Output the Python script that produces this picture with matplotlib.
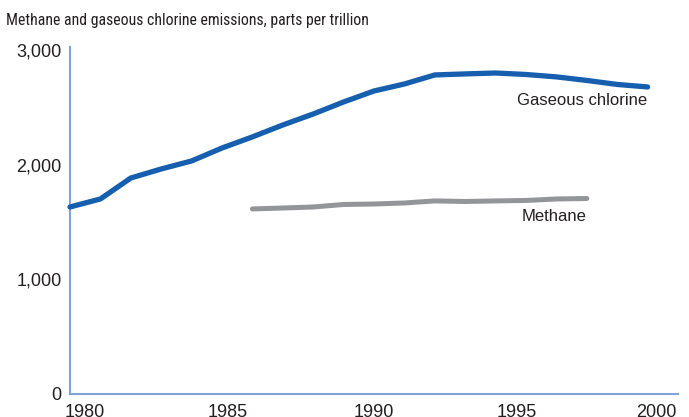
import matplotlib
matplotlib.use("Agg")
import matplotlib.pyplot as plt

# Annual concentrations, parts per trillion
years_chlorine = list(range(1980, 2000))
chlorine = [1633, 1703, 1886, 1965, 2035, 2148, 2245, 2349, 2445, 2550,
            2646, 2707, 2786, 2795, 2803, 2790, 2769, 2738, 2703, 2681]

years_methane = list(range(1986, 1998))
methane = [1616, 1624, 1633, 1655, 1659, 1668, 1686, 1681, 1686, 1690, 1703, 1707]

x_tick_pos = [1980.5, 1985.2, 1990.0, 1994.7, 1999.3]
x_tick_labels = ["1980", "1985", "1990", "1995", "2000"]
y_ticks = [0, 1000, 2000, 3000]
y_tick_labels = ["0", "1,000", "2,000", "3,000"]

W, H = 689, 417
fig = plt.figure(figsize=(W / 100, H / 100), dpi=100)
ax = fig.add_axes([70 / W, 1 - 394 / H, (678 - 70) / W, (394 - 47) / H])

blue = "#165EAE"
grey = "#939598"
axis_col = "#7FA5D6"
text_col = "#231F20"

ax.plot(years_chlorine, chlorine, color=blue, lw=3.8, solid_capstyle="round",
        solid_joinstyle="round", clip_on=False, zorder=3)
ax.plot(years_methane, methane, color=grey, lw=3.6, solid_capstyle="round",
        solid_joinstyle="round", clip_on=False, zorder=3)

ax.set_xlim(1980, 2000)
ax.set_ylim(0, 3030)

for s in ["top", "right"]:
    ax.spines[s].set_visible(False)
for s in ["left", "bottom"]:
    ax.spines[s].set_color(axis_col)
    ax.spines[s].set_linewidth(1.5)

tick_font = dict(family="Liberation Sans", size=13, color=text_col)
ax.set_xticks(x_tick_pos)
ax.set_xticklabels(x_tick_labels, **tick_font)
ax.set_yticks(y_ticks)
ax.set_yticklabels(y_tick_labels, **tick_font)
ax.tick_params(axis="both", length=0)
ax.tick_params(axis="x", pad=7.5)
ax.tick_params(axis="y", pad=6)

fig.text(6 / W, 1 - 20 / H, "Methane and gaseous chlorine emissions, parts per trillion",
         family="Roboto Condensed", size=11.3, color=text_col,
         ha="left", va="center")

ax.text(1999.0, 2560, "Gaseous chlorine", family="Liberation Sans", size=12,
        color=text_col, ha="right", va="center")
ax.text(1997.0, 1550, "Methane", family="Liberation Sans", size=12,
        color=text_col, ha="right", va="center")

fig.savefig("out.png", dpi=100)
